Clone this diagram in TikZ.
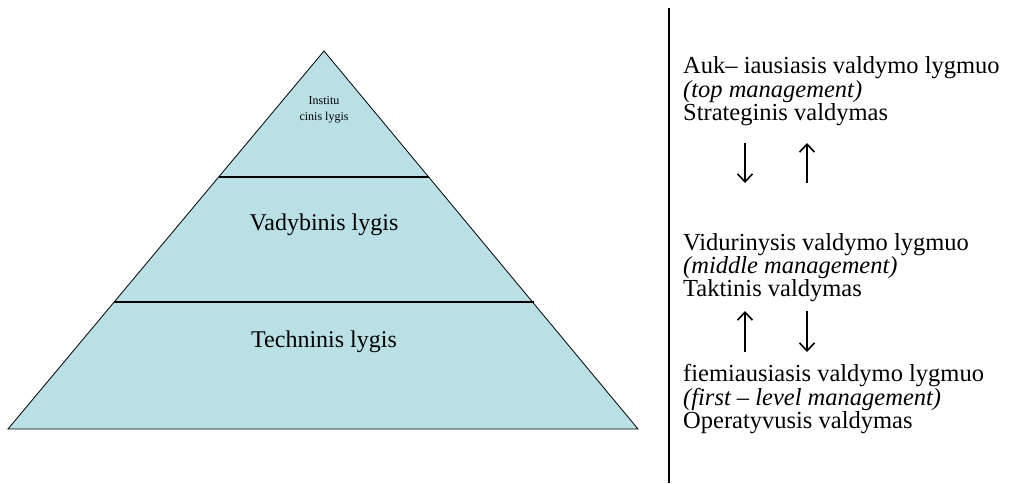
\documentclass[tikz,border=0pt]{standalone}
\usepackage{fontspec}
\setmainfont{Liberation Serif}
\usetikzlibrary{arrows.meta}
\definecolor{pyrfill}{RGB}{185,224,228}
\tikzset{
  lvl/.style={anchor=base, inner sep=0pt, font=\fontsize{24}{24}\selectfont},
  small/.style={anchor=base, inner sep=0pt, font=\fontsize{12}{12}\selectfont},
  rtext/.style={anchor=base west, inner sep=0pt, font=\fontsize{24.5}{24}\selectfont},
  rital/.style={rtext, font=\fontsize{24.5}{24}\selectfont\itshape},
  flow/.style={line width=1.6pt, -{Straight Barb[length=8pt,width=15pt,line width=1.6pt]}},
  divider/.style={line width=1.2pt},
}
\begin{document}
\begin{tikzpicture}[x=1pt,y=-1pt]
\useasboundingbox (0,0) rectangle (1011,483);
% pyramid
\coordinate (apex) at (324,51);
\coordinate (bl) at (8,429);
\coordinate (br) at (638,429);
\filldraw[fill=pyrfill, draw=black, line width=0.8pt] (apex) -- (br) -- (bl) -- cycle;
\coordinate (d1l) at (219,177);
\coordinate (d1r) at (429,177);
\coordinate (d2l) at (114,302);
\coordinate (d2r) at (534,302);
\draw[divider] (d1l) -- (d1r);
\draw[divider] (d2l) -- (d2r);
\node[small] (inst1) at (324,104) {Institu};
\node[small] (inst2) at (324,120) {cinis lygis};
\node[lvl] (vad) at (324,230) {Vadybinis lygis};
\node[lvl] (tech) at (324,347) {Techninis lygis};
% vertical separator
\coordinate (vtop) at (669,8);
\coordinate (vbot) at (669,483);
\draw[line width=2pt] (vtop) -- (vbot);
% right texts
\node[rtext] (t1) at (683,73) {Auk– iausiasis valdymo lygmuo};
\node[rital] (t2) at (683,97) {(top management)};
\node[rtext] (t3) at (683,120.5) {Strateginis valdymas};
\node[rtext] (m1) at (683,250) {Vidurinysis valdymo lygmuo};
\node[rital] (m2) at (683,273.5) {(middle management)};
\node[rtext] (m3) at (683,296) {Taktinis valdymas};
\node[rtext] (b1) at (683,381) {fiemiausiasis valdymo lygmuo};
\node[rital] (b2) at (683,405) {(first – level management)};
\node[rtext] (b3) at (683,428) {Operatyvusis valdymas};
% arrows
\coordinate (a1s) at (745,143);
\coordinate (a1e) at (745,183);
\coordinate (a2s) at (807,183);
\coordinate (a2e) at (807,143);
\coordinate (a3s) at (745,352);
\coordinate (a3e) at (745,311);
\coordinate (a4s) at (807,311);
\coordinate (a4e) at (807,352);
\draw[flow] (a1s) -- (a1e);
\draw[flow] (a2s) -- (a2e);
\draw[flow] (a3s) -- (a3e);
\draw[flow] (a4s) -- (a4e);
\end{tikzpicture}
\end{document}
